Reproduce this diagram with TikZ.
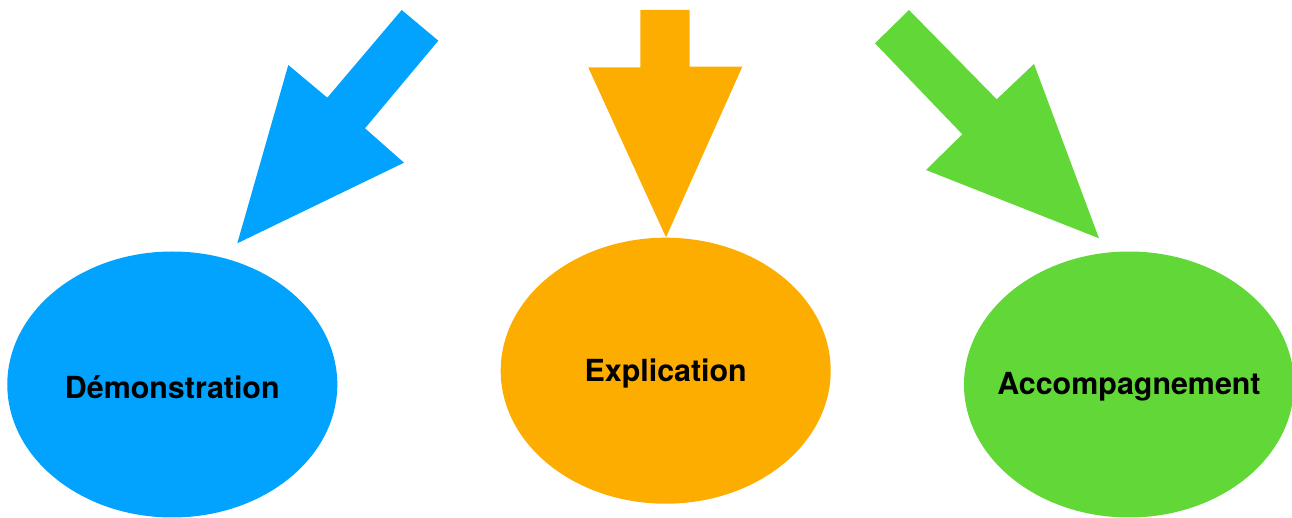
\documentclass[tikz,border=0pt]{standalone}
\usepackage{fontspec}
\setmainfont{TeX Gyre Heros}
\usepackage{tikz}
\usetikzlibrary{shapes.geometric}
\definecolor{demoblue}{HTML}{02A3FE}
\definecolor{explorange}{HTML}{FDAD00}
\definecolor{accgreen}{HTML}{61D838}
\tikzset{
	bubble/.style={ellipse, draw=none, inner sep=0pt, minimum width=165pt, minimum height=133pt},
	bubbletext/.style={inner sep=0pt, yshift=-1.2pt, font=\fontsize{15.2pt}{18pt}\selectfont\bfseries, text=black}
}

\begin{document}
\begin{tikzpicture}[x=.5pt, y=-.5pt]
				\useasboundingbox (0,0) rectangle (1292,518);
				\node[bubble, fill=demoblue, label={[bubbletext]center:Démonstration}] (demo) at (172.3,384.5) {};
				\node[bubble, fill=explorange, label={[bubbletext]center:Explication}] (expl) at (665.7,370.7) {};
				\node[bubble, fill=accgreen, label={[bubbletext]center:Accompagnement}] (accomp) at (1129,384.5) {};
				\fill[demoblue] (401.7,10) -- (438.3,40.7) -- (365,128.3) -- (404,162.7) -- (237.3,243.3) -- (288.3,65) -- (327.3,97.7) -- cycle;
				\fill[explorange] (640.3,10) -- (689.7,10) -- (689.7,66.7) -- (742.3,66.7) -- (666,237.3) -- (588.3,67.5) -- (640.3,67.3) -- cycle;
				\fill[accgreen] (909,10) -- (996.7,99.3) -- (1034,64) -- (1099,238.3) -- (926,170) -- (962.3,134.3) -- (875,43.3) -- cycle;
			\end{tikzpicture}
\end{document}
